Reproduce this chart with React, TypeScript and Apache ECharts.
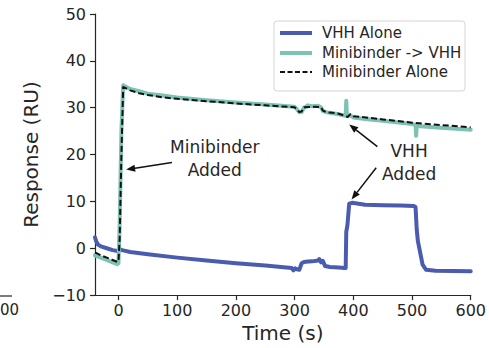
import React, { useEffect, useRef } from "react";
import * as echarts from "echarts";

// ---- data ----
const vhhAloneT = [-40, -38, -35, -30, -20, -10, -2, 2, 6, 20, 50, 100, 150, 200, 250, 295, 298, 301, 304, 308, 312, 315, 318, 330, 340, 342, 345, 348, 352, 360, 375, 385, 387, 388, 390, 393, 398, 420, 450, 480, 503, 506, 508, 510, 514, 518, 524, 540, 600];
const vhhAloneV = [2.3, 1.5, 0.8, 0.4, 0.0, -0.4, -0.6, -0.2, -0.4, -0.8, -1.3, -2.0, -2.6, -3.2, -3.7, -4.2, -4.7, -4.3, -4.5, -4.6, -3.2, -3.0, -2.9, -2.8, -2.6, -2.3, -3.0, -2.7, -3.8, -4.0, -4.1, -4.2, -4.2, 3.5, 5.0, 9.5, 9.7, 9.3, 9.2, 9.1, 9.0, 8.8, 4.0, 1.5, -1.0, -3.5, -4.6, -4.8, -4.9];

const miniVhhT = [-40, -30, -20, -10, -2, 0, 2, 5, 8, 12, 20, 35, 50, 75, 100, 150, 200, 250, 300, 303, 308, 312, 316, 320, 322, 330, 340, 345, 348, 355, 365, 375, 385, 387, 388, 389, 391, 395, 400, 420, 450, 500, 506, 507, 508, 509, 511, 520, 550, 600];
const miniVhhV = [-1.5, -2.0, -2.5, -3.0, -3.4, -3.2, 5, 25, 34.8, 34.5, 34.0, 33.5, 33.0, 32.6, 32.2, 31.6, 31.1, 30.7, 30.2, 29.8, 29.0, 29.1, 30.0, 30.2, 30.5, 30.3, 30.4, 30.1, 29.3, 29.0, 28.8, 28.6, 28.3, 28.5, 31.5, 28.6, 28.2, 28.4, 27.9, 27.6, 27.2, 26.5, 26.3, 24.0, 26.2, 26.2, 26.1, 26.0, 25.7, 25.3];

const miniAloneT = [-40, -30, -20, -10, -2, 0, 2, 5, 8, 12, 20, 35, 50, 75, 100, 150, 200, 250, 300, 303, 308, 312, 316, 330, 345, 348, 355, 365, 375, 385, 390, 395, 400, 450, 500, 550, 600];
const miniAloneV = [-0.9, -1.5, -2.0, -2.5, -2.9, -2.8, 2, 20, 34.4, 34.2, 33.7, 33.1, 32.7, 32.2, 31.9, 31.4, 30.9, 30.5, 30.1, 29.7, 29.1, 29.2, 30.1, 30.2, 30.1, 29.4, 29.0, 28.9, 28.7, 28.3, 28.0, 28.6, 28.2, 27.5, 26.8, 26.3, 25.8];

const seriesNames = ["VHH Alone", "Minibinder -> VHH", "Minibinder Alone"];
const xTickValues = [0, 100, 200, 300, 400, 500, 600];

// annotations in data coordinates: text centre, arrows (tail -> head)
const annoTexts = [
  { text: "Minibinder\nAdded", t: 164, v: 19.1 },
  { text: "VHH\nAdded", t: 495, v: 18.2 },
];
const annoArrows = [
  { from: [91, 18.3], to: [13, 16.8] },
  { from: [441, 21.7], to: [393, 26.4] },
  { from: [439, 17.2], to: [397, 10.4] },
];

const FONT = "DejaVu Sans";
const BLUE = "#4a5bb0";
const TEAL = "#7dc3b4";
const DASH = "#111111";
const INK = "#262626";

const seriesColors = [BLUE, TEAL, DASH];
const seriesWidths = [4, 4, 2];
const seriesDashed = [false, false, true];

const pairs = (ts: number[], vs: number[]) => ts.map((t, i) => [t, vs[i]]);

export default function App() {
  const ref = useRef<HTMLDivElement>(null);
  useEffect(() => {
    document.body.style.margin = "0";
    const chart = echarts.init(ref.current!, null, { renderer: "svg" });
    const seriesData = [
      pairs(vhhAloneT, vhhAloneV),
      pairs(miniVhhT, miniVhhV),
      pairs(miniAloneT, miniAloneV),
    ];
    const option: any = {
      animation: false,
      textStyle: { fontFamily: FONT },
      grid: { left: 95, right: 17, top: 14, bottom: 52, containLabel: false },
      xAxis: {
        type: "value",
        min: -40,
        max: 600,
        name: "Time (s)",
        nameLocation: "middle",
        nameGap: 22,
        nameTextStyle: { fontSize: 20, color: INK, fontFamily: FONT },
        axisLine: { show: true, onZero: false, lineStyle: { color: INK, width: 1.2 } },
        axisTick: { show: true, inside: false, length: 5, customValues: xTickValues, lineStyle: { color: INK, width: 1.2 } },
        axisLabel: { customValues: xTickValues, fontSize: 16, color: INK, margin: 7, fontFamily: FONT },
        splitLine: { show: false },
      },
      yAxis: {
        type: "value",
        min: -10,
        max: 50,
        interval: 10,
        name: "Response (RU)",
        nameLocation: "middle",
        nameGap: 49,
        nameTextStyle: { fontSize: 20, color: INK, fontFamily: FONT },
        axisLine: { show: true, onZero: false, lineStyle: { color: INK, width: 1.2 } },
        axisTick: { show: true, inside: false, length: 5, lineStyle: { color: INK, width: 1.2 } },
        axisLabel: {
          fontSize: 16,
          color: INK,
          margin: 9,
          fontFamily: FONT,
          formatter: (v: number) => String(v).replace("-", "\u2212"),
        },
        splitLine: { show: false },
      },
      series: seriesNames.map((name, i) => ({
        name,
        type: "line",
        data: seriesData[i],
        symbol: "none",
        lineStyle: {
          color: seriesColors[i],
          width: seriesWidths[i],
          type: seriesDashed[i] ? [6, 3] : "solid",
          join: "round",
          cap: seriesDashed[i] ? "butt" : "round",
        },
        itemStyle: { color: seriesColors[i] },
        z: 2 + i,
      })),
    };
    chart.setOption(option);

    const px = (t: number, v: number) => chart.convertToPixel({ gridIndex: 0 }, [t, v]) as number[];
    const graphics: any[] = [];
    annoTexts.forEach((a) => {
      const [x, y] = px(a.t, a.v);
      graphics.push({
        type: "text",
        x,
        y,
        style: {
          text: a.text,
          fontSize: 17,
          fontFamily: FONT,
          fill: INK,
          align: "center",
          verticalAlign: "middle",
          lineHeight: 23,
        },
        z: 10,
      });
    });
    annoArrows.forEach((a) => {
      const [x1, y1] = px(a.from[0], a.from[1]);
      const [x2, y2] = px(a.to[0], a.to[1]);
      const dx = x2 - x1;
      const dy = y2 - y1;
      const len = Math.sqrt(dx * dx + dy * dy);
      const ux = dx / len;
      const uy = dy / len;
      const hl = 9;
      const hw = 3.5;
      const bx = x2 - ux * hl;
      const by = y2 - uy * hl;
      graphics.push({
        type: "line",
        shape: { x1, y1, x2: bx, y2: by },
        style: { stroke: "#111", lineWidth: 1.5 },
        z: 10,
      });
      graphics.push({
        type: "polygon",
        shape: {
          points: [
            [x2, y2],
            [bx - uy * hw, by + ux * hw],
            [bx + uy * hw, by - ux * hw],
          ],
        },
        style: { fill: "#111" },
        z: 10,
      });
    });

    // legend box (matplotlib style)
    const lgX = 274;
    const lgY = 21;
    const lgW = 191;
    const lgH = 70;
    const rowY = [33, 53, 72];
    graphics.push({
      type: "rect",
      shape: { x: lgX, y: lgY, width: lgW, height: lgH, r: 3 },
      style: { fill: "rgba(255,255,255,0.85)", stroke: "#d5d5d5", lineWidth: 1 },
      z: 20,
    });
    seriesNames.forEach((name, i) => {
      graphics.push({
        type: "line",
        shape: { x1: 280, y1: rowY[i], x2: 312, y2: rowY[i] },
        style: {
          stroke: seriesColors[i],
          lineWidth: seriesWidths[i],
          lineDash: seriesDashed[i] ? [5, 2.5] : null,
        },
        z: 21,
      });
      graphics.push({
        type: "text",
        x: 322,
        y: rowY[i],
        style: { text: name, fontSize: 15, fontFamily: FONT, fill: INK, align: "left", verticalAlign: "middle" },
        z: 21,
      });
    });

    // remnant of the neighbouring panel at the left edge
    graphics.push({
      type: "line",
      shape: { x1: 0, y1: 296, x2: 12, y2: 296 },
      style: { stroke: INK, lineWidth: 1.2 },
    });
    graphics.push({
      type: "text",
      x: 0,
      y: 310,
      style: { text: "00", fontSize: 15, fontFamily: FONT, fill: INK, align: "left", verticalAlign: "middle" },
    });
    chart.setOption({ graphic: graphics });
    return () => chart.dispose();
  }, []);
  return <div ref={ref} style={{ width: 489, height: 348 }} />;
}
